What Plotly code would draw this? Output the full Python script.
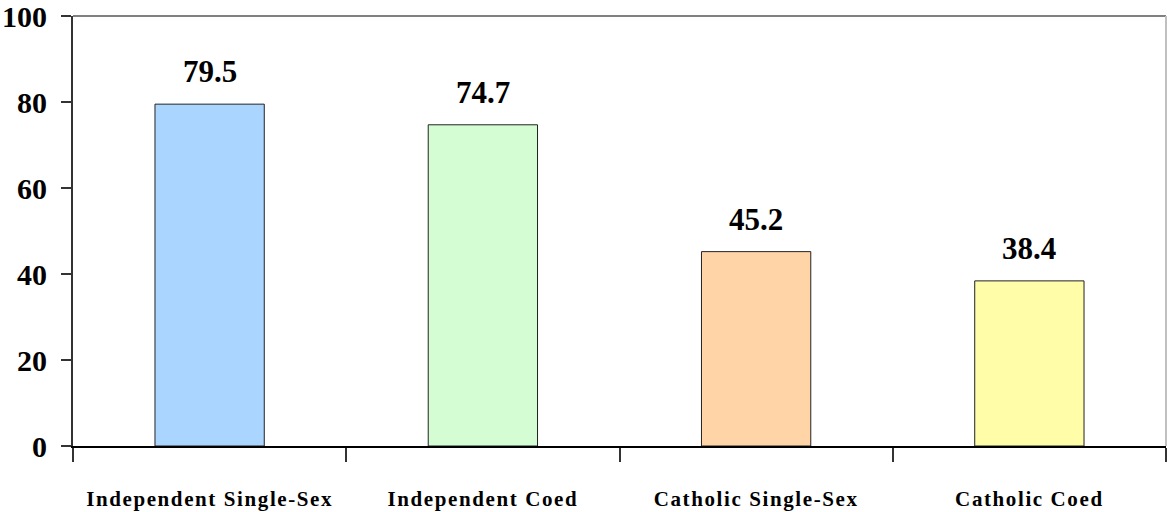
import plotly.graph_objects as go

categories = ["Independent Single-Sex", "Independent Coed", "Catholic Single-Sex", "Catholic Coed"]
values = [79.5, 74.7, 45.2, 38.4]
bar_colors = ["#AAD5FF", "#D4FDD4", "#FFD5A8", "#FFFDA8"]
y_ticks = [0, 20, 40, 60, 80, 100]

SERIF = "Liberation Serif, Times New Roman, serif"

fig = go.Figure()
fig.add_trace(go.Bar(
    x=categories,
    y=values,
    width=0.40,
    marker=dict(color=bar_colors, line=dict(color="#222222", width=1)),
    hoverinfo="skip",
))

for c, v in zip(categories, values):
    fig.add_annotation(
        x=c, y=v, text=f"{v:.1f}", showarrow=False,
        yanchor="bottom", yshift=13,
        font=dict(family=SERIF, size=31, color="black", weight="bold"),
    )

fig.update_layout(
    width=1167, height=512,
    margin=dict(l=73, r=1, t=16, b=66, autoexpand=False),
    paper_bgcolor="white", plot_bgcolor="white",
    showlegend=False,
    bargap=0.6,
    shapes=[
        dict(type="line", xref="paper", yref="paper", x0=0, x1=1, y0=1, y1=1,
             line=dict(color="#808080", width=2)),
        dict(type="line", xref="paper", yref="paper", x0=1, x1=1, y0=0, y1=1,
             line=dict(color="#C0C0C0", width=2)),
    ],
)

fig.update_xaxes(
    type="category",
    automargin=False,
    range=[-0.5, len(categories) - 0.5],
    tickvals=categories,
    ticktext=[f'<span style="letter-spacing:1.6px">{c}</span>' for c in categories],
    tickson="boundaries",
    ticks="outside", ticklen=14, tickwidth=1.5, tickcolor="#333333",
    showline=True, linecolor="black", linewidth=2,
    showgrid=False, zeroline=False,
    ticklabelstandoff=33,
    ticklabeloverflow="allow",
    tickfont=dict(family=SERIF, size=21, color="black", weight="bold"),
)

fig.update_yaxes(
    automargin=False,
    range=[0, 100],
    tickvals=y_ticks,
    ticks="outside", ticklen=10, tickwidth=1.5, tickcolor="#333333",
    showline=True, linecolor="#333333", linewidth=2,
    showgrid=False, zeroline=False,
    ticklabelstandoff=8,
    ticklabeloverflow="allow",
    tickfont=dict(family=SERIF, size=30, color="black", weight="bold"),
)

fig.write_html(
    "out.html",
    config={"displayModeBar": False},
    post_script="document.body.style.margin='0';document.body.style.overflow='hidden';",
)
